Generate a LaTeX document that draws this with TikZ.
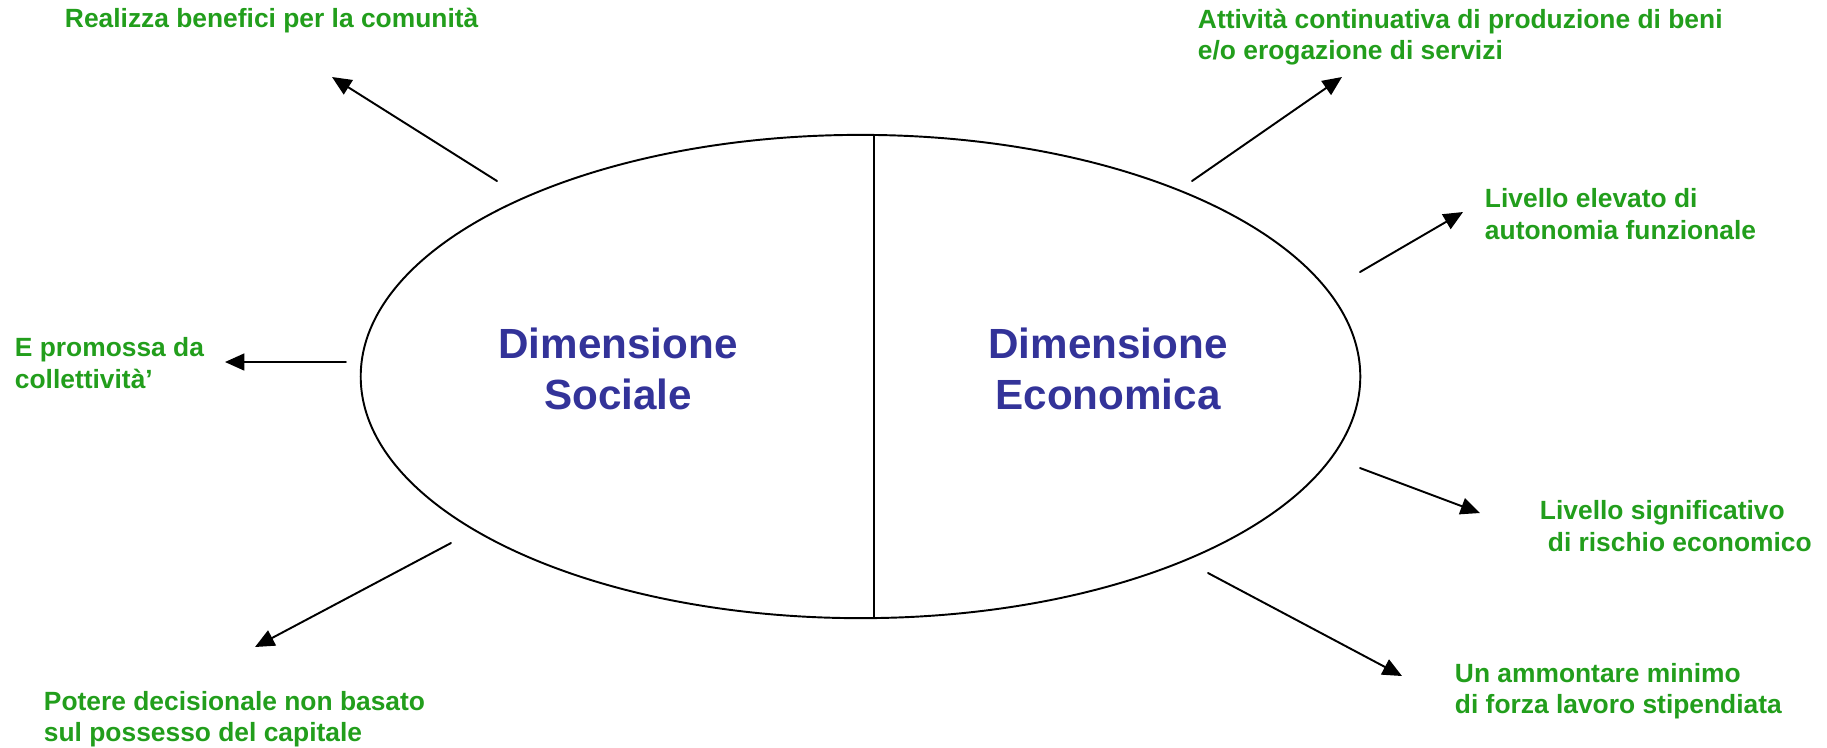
\documentclass[tikz,border=0pt]{standalone}
\usepackage{fontspec}
\setmainfont{Liberation Sans}
\usetikzlibrary{arrows.meta,shapes.geometric}
\definecolor{notegreen}{RGB}{34,158,28}
\definecolor{dimblue}{RGB}{51,51,153}
\tikzset{
	note/.style={font=\fontsize{7.5pt}{9pt}\selectfont\bfseries,text=notegreen,align=left,anchor=west,inner sep=0pt},
	dimtitle/.style={font=\fontsize{12pt}{14.3pt}\selectfont\bfseries,text=dimblue,align=center,inner sep=0pt}
}
\begin{document}
\begin{tikzpicture}[
	x=0.01cm,
	y=-0.01cm,
	>={Triangle[length=5.5pt,width=4.8pt]},
	line width=0.55pt,
	line cap=round,
	line join=round
	]
	\useasboundingbox (0,0) rectangle (1827,747);
	% the two dimensions
	\node[draw,ellipse,minimum width=9.99cm,minimum height=4.83cm,inner sep=0pt] (impresa) at (860.5,376.5) {};
	\draw (874,135) -- (874,618);
	\node[dimtitle] (sociale) at (618,369) {Dimensione\\Sociale};
	\node[dimtitle] (economica) at (1108,369) {Dimensione\\Economica};
	% notes
	\node[note] (benefici) at (64,21) {Realizza benefici per la comunità};
	\node[note] (attivita) at (1197,37) {Attività continuativa di produzione di beni\\e/o erogazione di servizi};
	\node[note] (autonomia) at (1484,214) {Livello elevato di\\autonomia funzionale};
	\node[note] (collettivita) at (14,363) {E promossa da\\collettività’};
	\node[note] (rischio) at (1539,526) {Livello significativo\\\hspace{0.3em}di rischio economico};
	\node[note] (lavoro) at (1454,691) {Un ammontare minimo\\di forza lavoro stipendiata};
	\node[note] (potere) at (43,719) {Potere decisionale non basato\\sul possesso del capitale};
	% arrows
	\coordinate (b1) at (497,181);   \coordinate (b2) at (332,77);
	\coordinate (a1) at (1192,181);  \coordinate (a2) at (1342,77);
	\coordinate (au1) at (1360,272); \coordinate (au2) at (1463,212);
	\coordinate (c1) at (346,362);   \coordinate (c2) at (225,362);
	\coordinate (r1) at (1360,468);  \coordinate (r2) at (1480,513);
	\coordinate (l1) at (1208,573);  \coordinate (l2) at (1402,676);
	\coordinate (p1) at (451,543);   \coordinate (p2) at (255,647);
	\begin{scope}[->]
		\draw (b1) -- (b2);
		\draw (a1) -- (a2);
		\draw (au1) -- (au2);
		\draw (c1) -- (c2);
		\draw (r1) -- (r2);
		\draw (l1) -- (l2);
		\draw (p1) -- (p2);
	\end{scope}
\end{tikzpicture}
\end{document}
